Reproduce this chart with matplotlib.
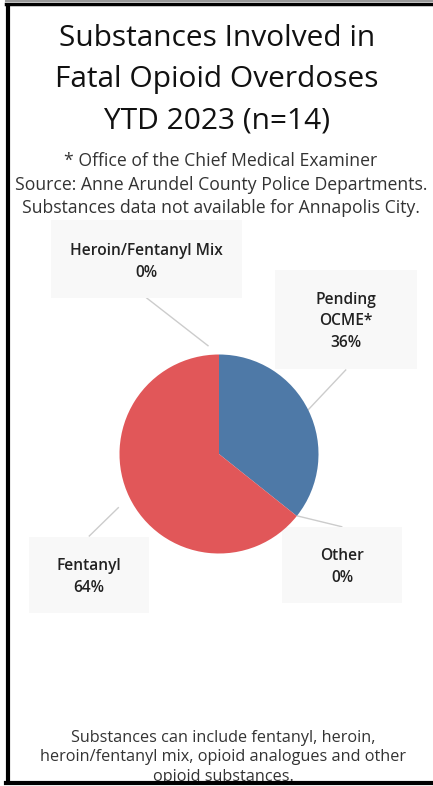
import matplotlib.pyplot as plt
from matplotlib.patches import Rectangle

# data (n=14)
categories = ["Pending\nOCME*", "Other", "Fentanyl", "Heroin/Fentanyl Mix"]
counts = [5, 0, 9, 0]
colors = ["#4e79a7", "#f28e2b", "#e15759", "#76b7b2"]

title = ["Substances Involved in", "Fatal Opioid Overdoses", "YTD 2023 (n=14)"]
subtitle = ["* Office of the Chief Medical Examiner",
            "Source: Anne Arundel County Police Departments.",
            "Substances data not available for Annapolis City."]
footer = ["Substances can include fentanyl, heroin,",
          "heroin/fentanyl mix, opioid analogues and other",
          "opioid substances."]

W, H = 433, 786
plt.rcParams['font.family'] = ['Open Sans', 'DejaVu Sans']
fig = plt.figure(figsize=(W / 100, H / 100), dpi=100)

# background axes in pixel coords
bg = fig.add_axes([0, 0, 1, 1])
bg.set_xlim(0, W)
bg.set_ylim(H, 0)
bg.axis("off")

# pie axes
cx, cy, r = 219, 454, 99.5
pa = fig.add_axes([(cx - r) / W, 1 - (cy + r) / H, 2 * r / W, 2 * r / H])
pa.pie(counts, colors=colors, startangle=90, counterclock=False,
       wedgeprops=dict(linewidth=0))
pa.set_xlim(-1, 1)
pa.set_ylim(-1, 1)
pa.set_aspect("equal")
pa.axis("off")

# border
bg.plot([7.5, 7.5], [3, 783], color="black", lw=3, solid_capstyle="butt")
bg.plot([6, W], [3.5, 3.5], color="black", lw=2.5)
bg.plot([6, W], [782.5, 782.5], color="black", lw=3)
bg.plot([6, W], [1, 1], color="#999999", lw=1.5)

for i, line in enumerate(title):
    bg.text(217, 46.5 + i * 41, line, ha="center", va="baseline",
            fontsize=21.5, color="#111111")
for i, line in enumerate(subtitle):
    bg.text(221, 166.5 + i * 23.3, line, ha="center", va="baseline",
            fontsize=12.7, color="#333333")

total = sum(counts)
# label boxes: (x0, y0, x1, y1), first baseline, leader line start/end
boxes = {
    "Pending\nOCME*": ((275, 270, 417, 369), 303.5, (345.7, 370), (308, 410)),
    "Other": ((282, 527, 402, 603), 560, (341.7, 526.7), (297.7, 516)),
    "Fentanyl": ((29, 537, 149, 613), 570, (89.3, 536), (118.3, 507.7)),
    "Heroin/Fentanyl Mix": ((51, 220, 242, 298), 255, (146.7, 298), (208, 345.7)),
}
for cat, val in zip(categories, counts):
    (x0, y0, x1, y1), base, p1, p2 = boxes[cat]
    bg.add_patch(Rectangle((x0, y0), x1 - x0, y1 - y0, facecolor="#f8f8f8",
                           edgecolor="none", zorder=3))
    bg.plot([p1[0], p2[0]], [p1[1], p2[1]], color="#cccccc", lw=1, zorder=2)
    lines = cat.split("\n") + [f"{round(val / total * 100)}%"]
    for j, line in enumerate(lines):
        bg.text((x0 + x1) / 2, base + j * 21.7, line, ha="center",
                va="baseline", fontsize=11.2, color="#222222",
                fontweight="semibold", zorder=4)

bg.set_zorder(0)
pa.set_zorder(1)

for i, line in enumerate(footer):
    bg.text(223, 741.5 + i * 19.8, line, ha="center", va="baseline",
            fontsize=11.7, color="#333333", zorder=0)
bg.add_patch(Rectangle((6, 781), W - 6, 5, facecolor="white",
                       edgecolor="none", zorder=0.5))

fig.savefig("out.png", dpi=100)
